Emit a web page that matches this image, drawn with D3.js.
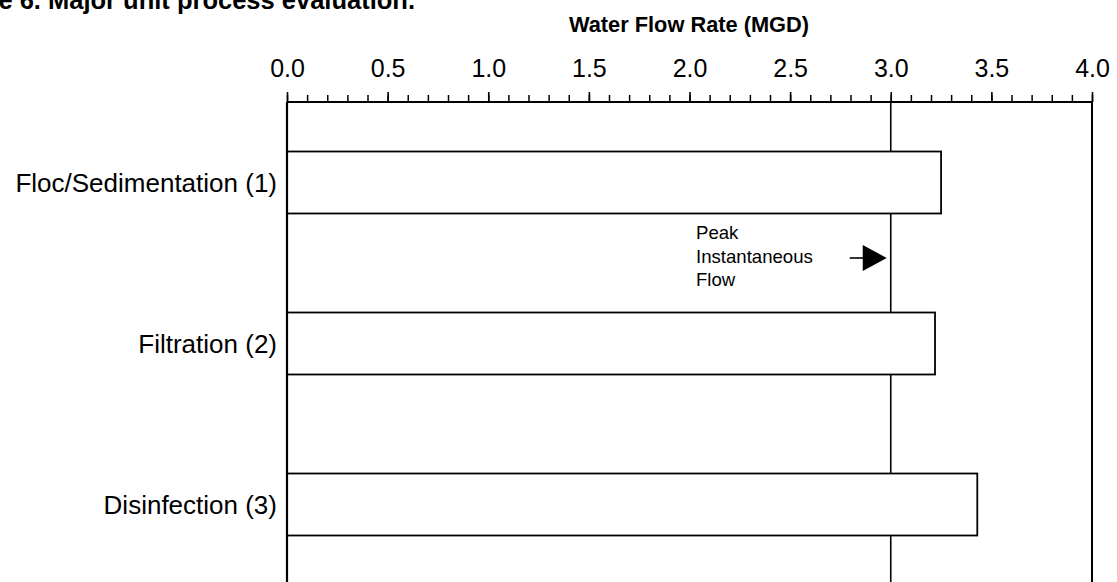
<!DOCTYPE html>
<html>
<head>
<meta charset="utf-8">
<script src="https://cdn.jsdelivr.net/npm/d3@7"></script>
<style>
  html, body { margin: 0; padding: 0; background: #fff; overflow: hidden; }
  svg { display: block; font-family: "Liberation Sans", Arial, sans-serif; }
</style>
</head>
<body>
<svg id="chart" width="1117" height="582"></svg>
<script>
// Unit processes and their rated capacity (MGD)
const processes = ["Floc/Sedimentation (1)", "Filtration (2)", "Disinfection (3)"];
const capacities = [3.25, 3.22, 3.43];
// Peak instantaneous flow reference (MGD)
const peakFlow = [3.0];
const peakLabel = ["Peak", "Instantaneous", "Flow"];
// Axis ticks
const majorTicks = [0, 0.5, 1.0, 1.5, 2.0, 2.5, 3.0, 3.5, 4.0];
const minorTicks = d3.range(0, 41).map(i => i / 10);

const svg = d3.select("#chart");
const plotTop = 102, plotBottom = 585, plotLeft = 287, plotRight = 1092;

const x = d3.scaleLinear().domain([0, 4]).range([plotLeft, plotRight]);
const y = d3.scaleBand().domain(processes).range([plotTop, plotBottom])
  .paddingInner(0.615).paddingOuter(0.3075);

// Figure title (runs off the top of the page)
svg.append("text")
  .attr("x", 415).attr("y", 9)
  .attr("text-anchor", "end")
  .attr("font-weight", "bold").attr("font-size", 25.5)
  .text("Figure 6. Major unit process evaluation.");

// Axis title
svg.append("text")
  .attr("x", 689).attr("y", 32)
  .attr("text-anchor", "middle")
  .attr("font-weight", "bold").attr("font-size", 21.8)
  .text("Water Flow Rate (MGD)");

// Peak flow reference line (behind bars)
svg.selectAll(".peak").data(peakFlow).join("line")
  .attr("class", "peak")
  .attr("x1", d => x(d)).attr("x2", d => x(d))
  .attr("y1", plotTop).attr("y2", plotBottom)
  .attr("stroke", "#000").attr("stroke-width", 1.6);

// Right frame line at axis maximum
svg.append("line")
  .attr("x1", x(4)).attr("x2", x(4))
  .attr("y1", plotTop).attr("y2", plotBottom)
  .attr("stroke", "#000").attr("stroke-width", 2);

// Bars
svg.selectAll(".bar").data(processes).join("rect")
  .attr("class", "bar")
  .attr("x", x(0))
  .attr("y", d => y(d))
  .attr("width", (d, i) => x(capacities[i]) - x(0))
  .attr("height", y.bandwidth())
  .attr("fill", "#fff")
  .attr("stroke", "#000").attr("stroke-width", 1.8);

// Left frame line, drawn over the bar edges
svg.append("line")
  .attr("x1", x(0)).attr("x2", x(0))
  .attr("y1", plotTop).attr("y2", plotBottom)
  .attr("stroke", "#000").attr("stroke-width", 2.2);

// Category labels
svg.selectAll(".cat").data(processes).join("text")
  .attr("class", "cat")
  .attr("x", 277)
  .attr("y", d => y(d) + y.bandwidth() / 2)
  .attr("dy", "0.35em")
  .attr("text-anchor", "end")
  .attr("font-size", 26)
  .text(d => d);

// Minor ticks
const minorAxis = d3.axisTop(x).tickValues(minorTicks).tickSize(7).tickFormat("");
const gMinor = svg.append("g").attr("transform", `translate(0,${plotTop})`).call(minorAxis);
gMinor.select(".domain").remove();
gMinor.selectAll(".tick line").attr("stroke", "#000").attr("stroke-width", 1.5);

// Major ticks and labels
const majorAxis = d3.axisTop(x).tickValues(majorTicks).tickSize(10).tickPadding(15)
  .tickFormat(d3.format(".1f"));
const gMajor = svg.append("g").attr("transform", `translate(0,${plotTop})`).call(majorAxis);
gMajor.select(".domain")
  .attr("d", `M${x(0)},0H${x(4)}`)
  .attr("stroke", "#000").attr("stroke-width", 2.2);
gMajor.selectAll(".tick line").attr("stroke", "#000").attr("stroke-width", 1.6);
gMajor.selectAll(".tick text")
  .attr("font-family", "Liberation Sans, Arial, sans-serif")
  .attr("font-size", 25).attr("fill", "#000");

// Peak flow annotation
svg.append("g").selectAll("text").data(peakLabel).join("text")
  .attr("x", 696)
  .attr("y", (d, i) => 239 + i * 23.5)
  .attr("font-size", 18.6)
  .text(d => d);

const arrowY = 258;
const tipX = x(peakFlow[0]) - 4;
svg.append("line")
  .attr("x1", tipX - 37).attr("x2", tipX - 23)
  .attr("y1", arrowY).attr("y2", arrowY)
  .attr("stroke", "#000").attr("stroke-width", 1.6);
svg.append("path")
  .attr("d", `M${tipX - 24},${arrowY - 13}L${tipX},${arrowY}L${tipX - 24},${arrowY + 13}Z`)
  .attr("fill", "#000");
</script>
</body>
</html>
